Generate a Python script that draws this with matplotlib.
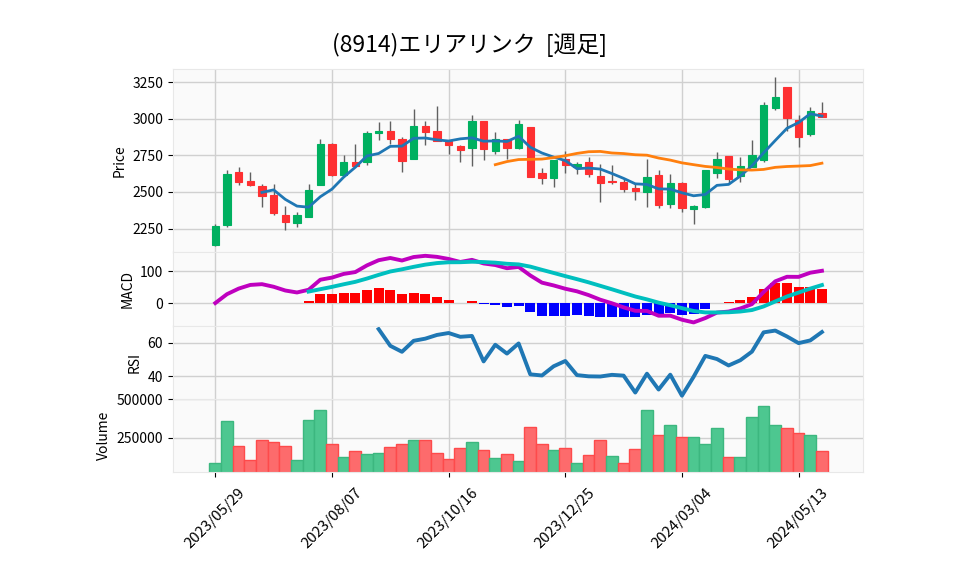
import numpy as np
import pandas as pd
import matplotlib
matplotlib.use('Agg')
import matplotlib.pyplot as plt

plt.rcParams['font.family'] = ['Noto Sans CJK JP', 'DejaVu Sans']

title = '(8914)エリアリンク  [週足]'
start_date = '2023-05-29'

# weekly OHLC
opens = [2140, 2273, 2637, 2575, 2540, 2478, 2345, 2287, 2331, 2550,
         2831, 2616, 2706, 2702, 2900, 2914, 2863, 2725, 2948, 2920,
         2851, 2817, 2798, 2983, 2778, 2861, 2798, 2941, 2628, 2598,
         2722, 2672, 2706, 2607, 2576, 2568, 2527, 2501, 2614, 2418,
         2559, 2384, 2398, 2633, 2745, 2609, 2672, 2718, 3075, 3218,
         2994, 2898, 3043]
highs = [2280, 2649, 2672, 2637, 2552, 2552, 2407, 2361, 2552, 2863,
         2835, 2755, 2828, 2914, 2978, 2987, 2874, 3070, 2983, 3086,
         2855, 2820, 3024, 2986, 2907, 2863, 2994, 2945, 2667, 2720,
         2782, 2702, 2736, 2690, 2683, 2591, 2552, 2725, 2649, 2621,
         2570, 2414, 2652, 2775, 2748, 2736, 2856, 3116, 3285, 3220,
         3024, 3082, 3116]
lows = [2130, 2259, 2545, 2538, 2395, 2345, 2241, 2259, 2326, 2548,
        2610, 2612, 2675, 2683, 2856, 2828, 2637, 2722, 2824, 2848,
        2759, 2702, 2679, 2720, 2759, 2725, 2795, 2600, 2552, 2533,
        2628, 2621, 2603, 2430, 2552, 2499, 2448, 2395, 2391, 2391,
        2361, 2282, 2391, 2598, 2557, 2570, 2670, 2702, 3059, 2914,
        2810, 2884, 3010]
closes = [2270, 2621, 2570, 2550, 2474, 2356, 2296, 2340, 2513, 2831,
          2616, 2706, 2679, 2900, 2914, 2861, 2713, 2948, 2909, 2851,
          2821, 2787, 2983, 2794, 2861, 2801, 2967, 2605, 2598, 2720,
          2683, 2690, 2626, 2564, 2567, 2517, 2504, 2603, 2414, 2559,
          2391, 2402, 2649, 2725, 2591, 2676, 2752, 3093, 3149, 3006,
          2874, 3052, 3013]
volumes = [85000, 361000, 200000, 104000, 233000, 226000, 200000, 104000, 367000, 431000,
           207000, 124000, 162000, 143000, 149000, 188000, 207000, 233000, 239000, 149000,
           111000, 181000, 226000, 169000, 117000, 143000, 98000, 322000, 213000, 169000,
           181000, 85000, 136000, 233000, 130000, 85000, 175000, 431000, 271000, 335000,
           258000, 258000, 207000, 316000, 124000, 124000, 386000, 457000, 335000, 316000,
           284000, 271000, 162000]

dates = pd.date_range(start_date, periods=len(closes), freq='7D')
df = pd.DataFrame({'Open': opens, 'High': highs, 'Low': lows,
                   'Close': closes, 'Volume': volumes}, index=dates)
x = np.arange(len(df))

# indicators
ma5 = df.Close.rolling(5).mean()
ma25 = df.Close.rolling(25).mean()
macd = df.Close.ewm(span=12, adjust=False).mean() - df.Close.ewm(span=26, adjust=False).mean()
signal = macd.ewm(span=9, adjust=False).mean()
signal.iloc[:8] = np.nan
hist = macd - signal
delta = df.Close.diff()
gain = delta.clip(lower=0).rolling(14).mean()
loss = (-delta.clip(upper=0)).rolling(14).mean()
rsi = 100 * gain / (gain + loss)

up = df.Close >= df.Open
c_up, c_dn = '#00b060', '#fe3032'
v_up, v_dn = '#4dc790', '#fd6b6c'
vol_up = np.r_[up.iloc[0], (df.Close.diff() >= 0).values[1:]]

fig = plt.figure(figsize=(9.58, 5.75), dpi=100)
gs = fig.add_gridspec(4, 1, height_ratios=[5, 2, 2, 2], hspace=0,
                      left=0.1803, right=0.9012, top=0.8795, bottom=0.1786)
ax1 = fig.add_subplot(gs[0])
ax2 = fig.add_subplot(gs[1], sharex=ax1)
ax3 = fig.add_subplot(gs[2], sharex=ax1)
ax4 = fig.add_subplot(gs[3], sharex=ax1)
axes = [ax1, ax2, ax3, ax4]

for ax in axes:
    ax.set_facecolor('#fafafa')
    ax.grid(True, color='#d0d0d0', lw=1)
    ax.set_axisbelow(True)
    for s in ax.spines.values():
        s.set_color('#e8e8e8')
    ax.tick_params(labelsize=10, length=3.5, width=0.8)

# candles
ax1.vlines(x, df.Low, df.High, color='#606060', lw=1, zorder=2)
body_bot = np.minimum(df.Open, df.Close)
body_h = np.abs(df.Close - df.Open)
ax1.bar(x, body_h, bottom=body_bot, width=0.62,
        color=np.where(up, c_up, c_dn), edgecolor=np.where(up, c_up, c_dn), lw=0.8, zorder=3)
ax1.plot(x, ma5, color='#1f77b4', lw=2, zorder=4)
ax1.plot(x, ma25, color='#ff7f0e', lw=2, zorder=4)
ax1.set_ylim(2086, 3339)
ax1.set_yticks([2250, 2500, 2750, 3000, 3250])
ax1.set_ylabel('Price', fontsize=10)

# MACD
ax2.bar(x, hist, width=0.85, color=np.where(hist >= 0, 'r', 'b'), zorder=2)
ax2.plot(x, macd, color='#bf00bf', lw=2.8, zorder=3)
ax2.plot(x, signal, color='#00bfbf', lw=2.8, zorder=3)
ax2.set_yticks([0, 100])
ax2.set_ylabel('MACD', fontsize=10)

# RSI
ax3.plot(x, rsi, color='#1f77b4', lw=2.8)
ax3.set_yticks([40, 60])
ax3.set_ylabel('RSI', fontsize=10)

# volume
ax4.bar(x, df.Volume, width=1.0, color=np.where(vol_up, v_up, v_dn),
        edgecolor=np.where(vol_up, '#3cb77f', '#fe4a4b'), lw=1, zorder=2)
ax4.set_ylim(0.3 * df.Volume.min(), 1.1 * df.Volume.max())
ax4.set_yticks([250000, 500000])
ax4.set_ylabel('Volume', fontsize=10)

ax1.set_xlim(-3.65, 55.55)
ticks = x[::10]
ax4.set_xticks(ticks)
ax4.set_xticklabels([d.strftime('%Y/%m/%d') for d in df.index[::10]],
                    rotation=45, ha='center', fontsize=10.8)
ax4.tick_params(axis='x', pad=6)
for ax in axes[:-1]:
    ax.tick_params(axis='x', which='both', bottom=False, labelbottom=False)

fig.text(0.49, 0.9217, title, ha='center', va='center', fontsize=16.5)

fig.savefig('out.png', dpi=100)
